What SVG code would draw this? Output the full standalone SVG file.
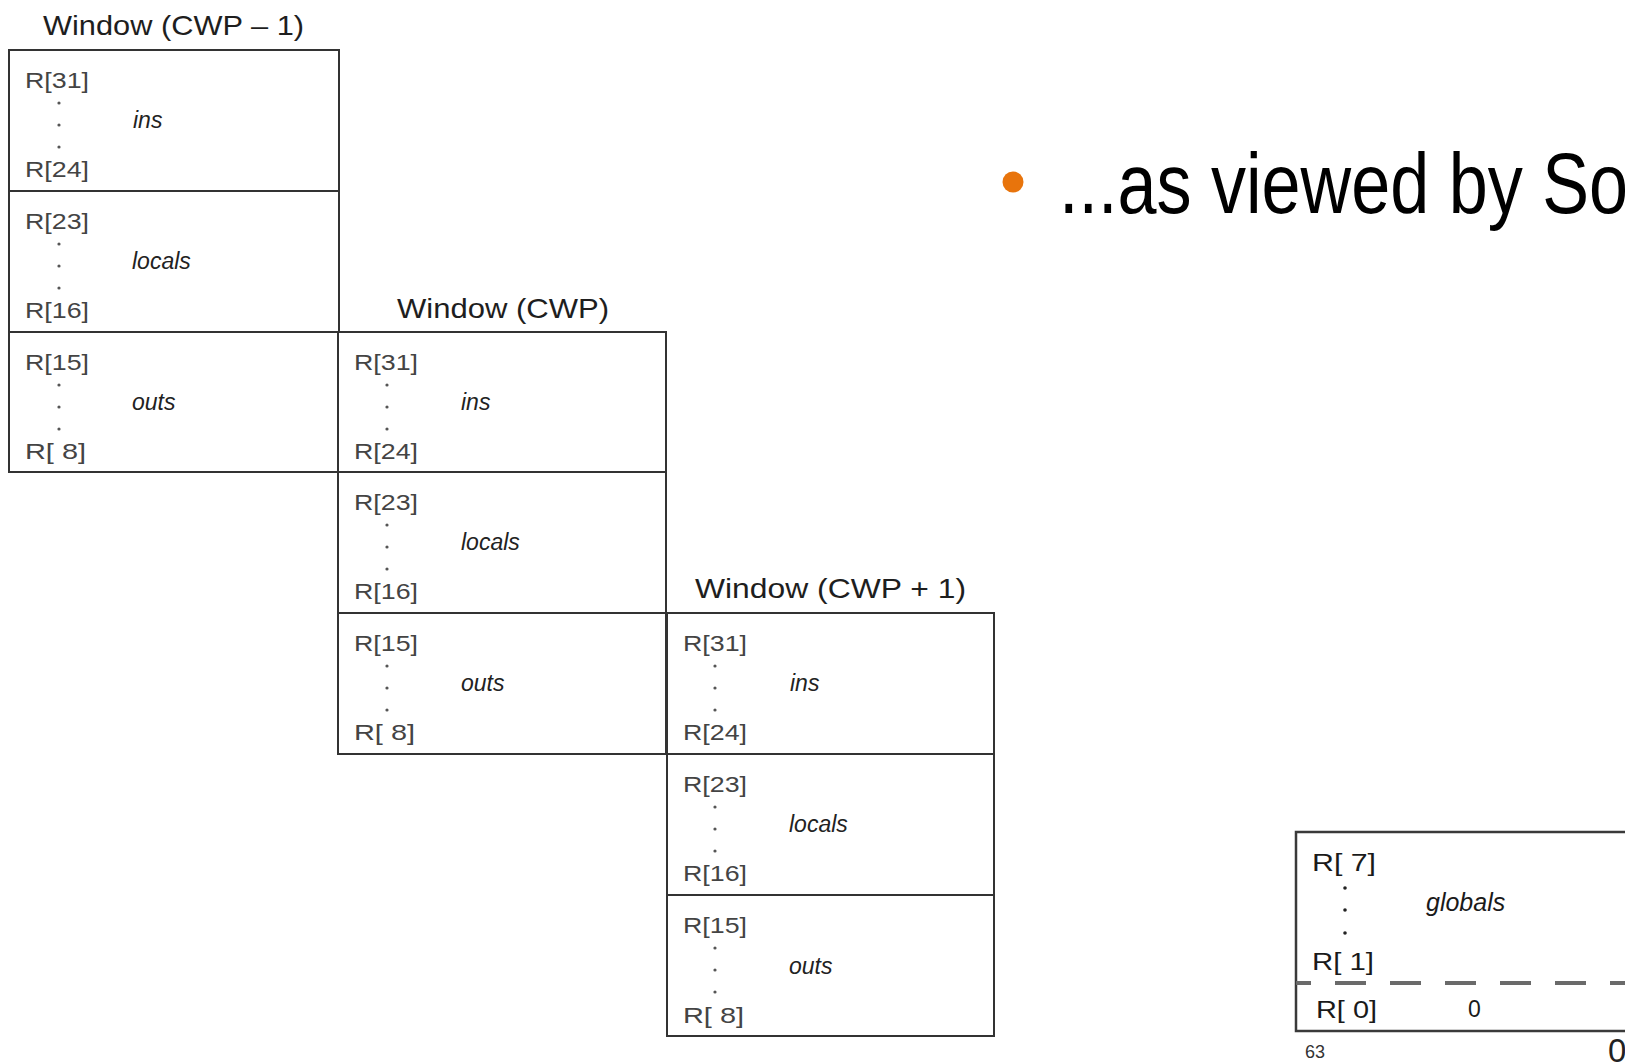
<svg xmlns="http://www.w3.org/2000/svg" width="1625" height="1063" viewBox="0 0 1625 1063">
<style>
.box{fill:#fff;stroke:#333;stroke-width:2}
.div{stroke:#333;stroke-width:2}
.title{font-family:"Liberation Sans",Arial,sans-serif;font-size:28px;fill:#1e1e1e}
.reg{font-family:"Liberation Sans",Arial,sans-serif;font-size:21.5px;fill:#444}
.lab{font-family:"Liberation Sans",Arial,sans-serif;font-size:23px;font-style:italic;fill:#222}
.dot{fill:#555}
.greg{font-family:"Liberation Sans",Arial,sans-serif;font-size:23px;fill:#1a1a1a}
.glab{font-family:"Liberation Sans",Arial,sans-serif;font-size:25px;font-style:italic;fill:#1a1a1a}
.bullet{font-family:"Liberation Sans",Arial,sans-serif;font-size:85px;fill:#000}
</style>
<rect width="1625" height="1063" fill="#fff"/>

<g id="window-cwp-minus-1">
<text class="title" x="43" y="35" textLength="261" lengthAdjust="spacingAndGlyphs">Window (CWP – 1)</text>
<rect class="box" x="9" y="50" width="330" height="422"/>
<line class="div" x1="9" y1="191" x2="339" y2="191"/>
<line class="div" x1="9" y1="332" x2="339" y2="332"/>
<text class="reg" x="25" y="88" textLength="64" lengthAdjust="spacingAndGlyphs">R[31]</text>
<circle class="dot" cx="59" cy="103" r="1.6"/><circle class="dot" cx="59" cy="125" r="1.6"/><circle class="dot" cx="59" cy="147" r="1.6"/>
<text class="lab" x="133" y="128">ins</text>
<text class="reg" x="25" y="177" textLength="64" lengthAdjust="spacingAndGlyphs">R[24]</text>
<text class="reg" x="25" y="229" textLength="64" lengthAdjust="spacingAndGlyphs">R[23]</text>
<circle class="dot" cx="59" cy="244" r="1.6"/><circle class="dot" cx="59" cy="266" r="1.6"/><circle class="dot" cx="59" cy="288" r="1.6"/>
<text class="lab" x="132" y="269">locals</text>
<text class="reg" x="25" y="318" textLength="64" lengthAdjust="spacingAndGlyphs">R[16]</text>
<text class="reg" x="25" y="370" textLength="64" lengthAdjust="spacingAndGlyphs">R[15]</text>
<circle class="dot" cx="59" cy="385" r="1.6"/><circle class="dot" cx="59" cy="407" r="1.6"/><circle class="dot" cx="59" cy="429" r="1.6"/>
<text class="lab" x="132" y="410">outs</text>
<text class="reg" x="25" y="459" textLength="61" lengthAdjust="spacingAndGlyphs">R[ 8]</text>
</g>

<g id="window-cwp">
<text class="title" x="397" y="318" textLength="212" lengthAdjust="spacingAndGlyphs">Window (CWP)</text>
<rect class="box" x="338" y="332" width="328" height="422"/>
<line class="div" x1="338" y1="472" x2="666" y2="472"/>
<line class="div" x1="338" y1="613" x2="666" y2="613"/>
<text class="reg" x="354" y="370" textLength="64" lengthAdjust="spacingAndGlyphs">R[31]</text>
<circle class="dot" cx="387" cy="385" r="1.6"/><circle class="dot" cx="387" cy="407" r="1.6"/><circle class="dot" cx="387" cy="429" r="1.6"/>
<text class="lab" x="461" y="410">ins</text>
<text class="reg" x="354" y="459" textLength="64" lengthAdjust="spacingAndGlyphs">R[24]</text>
<text class="reg" x="354" y="510" textLength="64" lengthAdjust="spacingAndGlyphs">R[23]</text>
<circle class="dot" cx="387" cy="525" r="1.6"/><circle class="dot" cx="387" cy="547" r="1.6"/><circle class="dot" cx="387" cy="569" r="1.6"/>
<text class="lab" x="461" y="550">locals</text>
<text class="reg" x="354" y="599" textLength="64" lengthAdjust="spacingAndGlyphs">R[16]</text>
<text class="reg" x="354" y="651" textLength="64" lengthAdjust="spacingAndGlyphs">R[15]</text>
<circle class="dot" cx="387" cy="666" r="1.6"/><circle class="dot" cx="387" cy="688" r="1.6"/><circle class="dot" cx="387" cy="710" r="1.6"/>
<text class="lab" x="461" y="691">outs</text>
<text class="reg" x="354" y="740" textLength="61" lengthAdjust="spacingAndGlyphs">R[ 8]</text>
</g>

<g id="window-cwp-plus-1">
<text class="title" x="695" y="598" textLength="271" lengthAdjust="spacingAndGlyphs">Window (CWP + 1)</text>
<rect class="box" x="667" y="613" width="327" height="423"/>
<line class="div" x1="667" y1="754" x2="994" y2="754"/>
<line class="div" x1="667" y1="895" x2="994" y2="895"/>
<text class="reg" x="683" y="651" textLength="64" lengthAdjust="spacingAndGlyphs">R[31]</text>
<circle class="dot" cx="715" cy="666" r="1.6"/><circle class="dot" cx="715" cy="688" r="1.6"/><circle class="dot" cx="715" cy="710" r="1.6"/>
<text class="lab" x="790" y="691">ins</text>
<text class="reg" x="683" y="740" textLength="64" lengthAdjust="spacingAndGlyphs">R[24]</text>
<text class="reg" x="683" y="792" textLength="64" lengthAdjust="spacingAndGlyphs">R[23]</text>
<circle class="dot" cx="715" cy="807" r="1.6"/><circle class="dot" cx="715" cy="829" r="1.6"/><circle class="dot" cx="715" cy="851" r="1.6"/>
<text class="lab" x="789" y="832">locals</text>
<text class="reg" x="683" y="881" textLength="64" lengthAdjust="spacingAndGlyphs">R[16]</text>
<text class="reg" x="683" y="933" textLength="64" lengthAdjust="spacingAndGlyphs">R[15]</text>
<circle class="dot" cx="715" cy="948" r="1.6"/><circle class="dot" cx="715" cy="970" r="1.6"/><circle class="dot" cx="715" cy="992" r="1.6"/>
<text class="lab" x="789" y="974">outs</text>
<text class="reg" x="683" y="1023" textLength="61" lengthAdjust="spacingAndGlyphs">R[ 8]</text>
</g>

<g id="globals">
<rect x="1296" y="832" width="360" height="199" fill="#fff" stroke="#3a3a3a" stroke-width="2.5"/>
<line x1="1296" y1="983" x2="1625" y2="983" stroke="#6a6a6a" stroke-width="4" stroke-dasharray="31 24" stroke-dashoffset="16"/>
<text class="greg" x="1312" y="871" textLength="64" lengthAdjust="spacingAndGlyphs">R[ 7]</text>
<circle cx="1345" cy="888" r="1.8" fill="#222"/><circle cx="1345" cy="910" r="1.8" fill="#222"/><circle cx="1345" cy="933" r="1.8" fill="#222"/>
<text class="glab" x="1426" y="911">globals</text>
<text class="greg" x="1312" y="970" textLength="62" lengthAdjust="spacingAndGlyphs">R[ 1]</text>
<text class="greg" x="1316" y="1018" textLength="61" lengthAdjust="spacingAndGlyphs">R[ 0]</text>
<text class="greg" x="1468" y="1017">0</text>
<text x="1305" y="1058" font-family="Liberation Sans,Arial,sans-serif" font-size="18" fill="#333">63</text>
<text x="1608" y="1062" font-family="Liberation Sans,Arial,sans-serif" font-size="33" fill="#222">0</text>
</g>

<g id="bullet-text">
<circle cx="1013" cy="182" r="10.5" fill="#e8740c"/>
<text class="bullet" x="1059" y="213" textLength="569" lengthAdjust="spacingAndGlyphs">...as viewed by So</text>
</g>

<g id="connectors"/>
</svg>
